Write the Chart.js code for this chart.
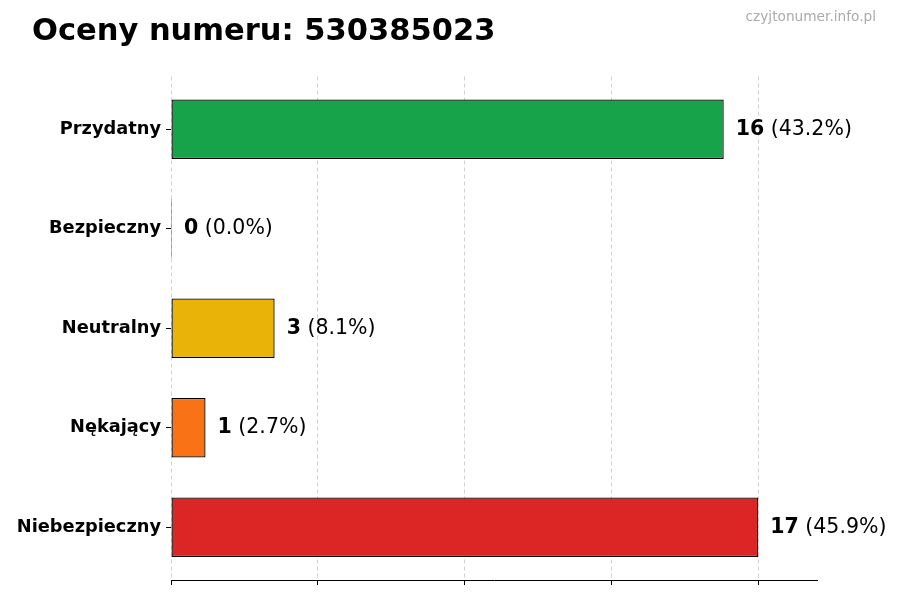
<!DOCTYPE html>
<html>
<head>
<meta charset="utf-8">
<script src="https://cdn.jsdelivr.net/npm/chart.js@4/dist/chart.umd.min.js"></script>
<style>
  html, body { margin: 0; padding: 0; background: #fff; }
  #wrap { width: 900px; height: 600px; position: relative; }
</style>
</head>
<body>
<div id="wrap"><canvas id="c" width="900" height="600"></canvas></div>
<script>
const titleText = 'Oceny numeru: 530385023';
const watermark = 'czyjtonumer.info.pl';
const categories = ['Przydatny', 'Bezpieczny', 'Neutralny', 'Nękający', 'Niebezpieczny'];
const counts = [16, 0, 3, 1, 17];
const percents = ['43.2', '0.0', '8.1', '2.7', '45.9'];
const barColors = ['#16a34a', '#2563eb', '#eab308', '#f97316', '#dc2626'];
const xTicks = [0, 4.25, 8.5, 12.75, 17];
const xMax = 18.7;

const FONT = "'DejaVu Sans', sans-serif";

// value labels at the bar ends: bold count + normal percentage
const valueLabels = {
  id: 'valueLabels',
  afterDatasetsDraw(chart){
    const ctx = chart.ctx;
    const meta = chart.getDatasetMeta(0);
    ctx.save();
    ctx.textBaseline = 'middle';
    ctx.fillStyle = '#000';
    meta.data.forEach((bar, i)=>{
      let x = Math.max(bar.x, bar.base) + 12;
      ctx.font = 'bold 20.5px ' + FONT;
      const n = String(counts[i]);
      ctx.fillText(n, x, bar.y);
      x += ctx.measureText(n).width;
      ctx.font = '20.5px ' + FONT;
      ctx.fillText(' (' + percents[i] + '%)', x, bar.y);
    });
    ctx.restore();
  }
};

const headerText = {
  id: 'headerText',
  afterDraw(chart){
    const ctx = chart.ctx;
    ctx.save();
    ctx.textBaseline = 'middle';
    ctx.fillStyle = '#000';
    ctx.font = 'bold 30.5px ' + FONT;
    ctx.textAlign = 'left';
    ctx.fillText(titleText, 32, 32);
    ctx.fillStyle = '#aaaaaa';
    ctx.font = '13.7px ' + FONT;
    ctx.textAlign = 'right';
    ctx.fillText(watermark, 876, 17.5);
    ctx.restore();
  }
};

new Chart(document.getElementById('c'), {
  type: 'bar',
  data: {
    datasets: [{
      data: counts.map((v, i) => ({ x: v, y: i })),
      backgroundColor: barColors,
      borderColor: '#000',
      borderWidth: 1.3,
      borderSkipped: false,
      barPercentage: 0.6,
      categoryPercentage: 1,
      minBarLength: 1
    }]
  },
  options: {
    indexAxis: 'y',
    responsive: false,
    animation: false,
    devicePixelRatio: 1,
    layout: { padding: { top: 76.5, right: 83, left: 0, bottom: 0 } },
    plugins: { legend: { display: false }, tooltip: { enabled: false }, title: { display: false } },
    scales: {
      x: {
        type: 'linear',
        min: 0, max: xMax, z: 1,
        afterBuildTicks: s => { s.ticks = xTicks.map(v => ({ value: v })); },
        afterFit: s => { s.height = 20; },
        ticks: { display: false },
        grid: {
          color: 'rgba(0,0,0,0.18)', lineWidth: 1,
          drawTicks: true, tickLength: 5, tickColor: '#000', tickWidth: 1, tickBorderDash: []
        },
        border: { display: true, color: '#000', width: 1, dash: [4, 3] }
      },
      y: {
        type: 'linear',
        min: -0.53, max: 4.53, reverse: true, offset: false,
        afterBuildTicks: s => { s.ticks = categories.map((c, i) => ({ value: i })); },
        afterFit: s => { s.width = 171; },
        ticks: {
          color: '#000', font: { family: FONT, size: 17.8, weight: 'bold' }, padding: 5,
          callback: v => categories[v]
        },
        grid: { offset: false, drawOnChartArea: false, drawTicks: true, tickLength: 5, tickColor: '#000', tickWidth: 1 },
        border: { display: false }
      }
    }
  },
  plugins: [valueLabels, headerText]
});
</script>
</body>
</html>
